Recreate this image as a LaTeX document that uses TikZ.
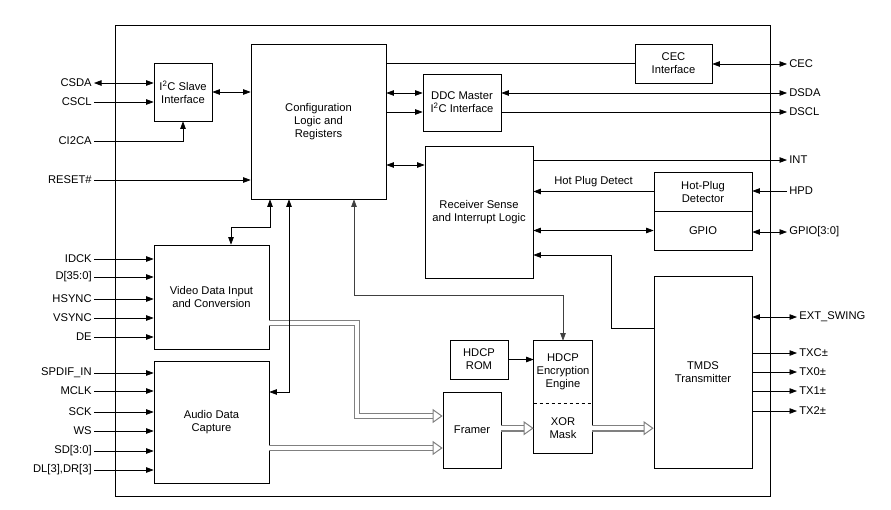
\documentclass[tikz,border=0pt]{standalone}
\usepackage{fontspec}
\setmainfont{Liberation Sans}
\usetikzlibrary{arrows.meta,positioning}

\tikzset{
  blk/.style={draw, align=center, inner sep=1pt},
  inner/.style={align=center, inner sep=1pt, minimum width=58},
  pinl/.style={anchor=east, inner sep=2pt},
  pinr/.style={anchor=west, inner sep=2pt},
  busout/.style={draw=gray, line width=6.6pt, shorten >=6pt},
  busin/.style={draw=white, line width=4pt,
    -{Triangle[open, length=10pt, width=14pt, line width=1pt, color=gray, fill=white]}},
  >={Triangle[length=7.5pt,width=5.5pt]}
}
\def\busline#1{\draw[busout] #1; \draw[busin] #1;}

\begin{document}
\begin{tikzpicture}[x=1pt,y=-1pt,line width=0.7pt,font=\fontsize{11.2}{13}\selectfont]
    \useasboundingbox (0,0) rectangle (891,509);
    %% chip outline
    \draw (115,25) rectangle (770,496);

    %% blocks
    \node[blk, minimum width=58, minimum height=58] (i2c) at (183,92) {I\textsuperscript{2}C Slave\\Interface};
    \node[blk, minimum width=135, minimum height=155] (cfg) at (318.5,121.5) {Configuration\\Logic and\\Registers};
    \node[blk, minimum width=78, minimum height=57] (ddc) at (462,102.5) {DDC Master\\I\textsuperscript{2}C Interface};
    \node[blk, minimum width=108, minimum height=132] (rcv) at (479,212) {Receiver Sense\\and Interrupt Logic};
    \node[blk, minimum width=77, minimum height=39] (cec) at (673.5,63.5) {CEC\\Interface};
    \node[blk, minimum width=98, minimum height=39] (hpd) at (703,191.5) {Hot-Plug\\Detector};
    \node[blk, minimum width=98, minimum height=39] (gpio) at (703,230.5) {GPIO};
    \node[blk, minimum width=98, minimum height=192] (tmds) at (703,372) {TMDS\\Transmitter};
    \node[blk, minimum width=115, minimum height=104] (vid) at (211.5,297) {Video Data Input\\and Conversion};
    \node[blk, minimum width=115, minimum height=122] (aud) at (211.5,422) {Audio Data\\Capture};
    \node[blk, minimum width=58, minimum height=39] (rom) at (479,359.5) {HDCP\\ROM};
    \node[blk, minimum width=58, minimum height=76] (frm) at (472,430) {Framer};
    \node[inner, minimum height=62] (enc) at (563,372) {HDCP\\Encryption\\Engine};
    \node[inner, minimum height=49, anchor=north] (xor) at (enc.south) {XOR\\Mask};
    \draw (enc.north west) rectangle (xor.south east);
    \draw[dashed] (enc.south west) -- (enc.south east);

    %% data buses
    \coordinate (b1) at (357,323);
    \coordinate (b2) at (357,416);
    \coordinate (b3) at (0,448);
    \busline{(vid.east |- b1) -- (b1) -- (b2) -- (frm.west |- b2)}
    \busline{(aud.east |- b3) -- (frm.west |- b3)}
    \busline{(frm.east |- xor.west) -- (xor.west)}
    \busline{(xor.east) -- (xor.east -| tmds.west)}

    %% left pins
    \node[pinl] (csda) at (94,83) {CSDA};
    \node[pinl] (cscl) at (94,102) {CSCL};
    \node[pinl] (ci2ca) at (94,141) {CI2CA};
    \node[pinl] (rst) at (94,180) {RESET\#};
    \draw[<->] (csda.east) -- (csda -| i2c.west);
    \draw[->] (cscl.east) -- (cscl -| i2c.west);
    \draw[->] (ci2ca.east) -| (i2c.south);
    \draw[->] (rst.east) -- (rst -| cfg.west);
    \foreach \lab/\y [count=\i] in {IDCK/259, {D[35:0]}/277, HSYNC/299, VSYNC/318, DE/337}{
      \node[pinl] (vin\i) at (94,\y) {\lab};
      \draw[->] (vin\i.east) -- (vin\i -| vid.west);
    }
    \foreach \lab/\y [count=\i] in {SPDIF\_IN/373, MCLK/391, SCK/412, WS/431, {SD[3:0]}/451, {DL[3],DR[3]}/470}{
      \node[pinl] (ain\i) at (94,\y) {\lab};
      \draw[->] (ain\i.east) -- (ain\i -| aud.west);
    }

    %% right pins
    \node[pinr] (cecp) at (787,64) {CEC};
    \node[pinr] (dsda) at (787,93) {DSDA};
    \node[pinr] (dscl) at (787,112) {DSCL};
    \node[pinr] (intp) at (787,160) {INT};
    \node[pinr] (hpdp) at (787,191) {HPD};
    \node[pinr] (gpiop) at (787,232) {GPIO[3:0]};
    \draw[<->] (cec.east |- cecp) -- (cecp.west);
    \draw[<->] (ddc.east |- dsda) -- (dsda.west);
    \draw[->] (ddc.east |- dscl) -- (dscl.west);
    \draw[->] (rcv.east |- intp) -- (intp.west);
    \draw[->] (hpdp.west) -- (hpd.east |- hpdp);
    \draw[<->] (gpio.east |- gpiop) -- (gpiop.west);
    \node[pinr] (swing) at (797,317) {EXT\_SWING};
    \draw[<->] (tmds.east |- swing) -- (swing.west);
    \foreach \lab/\y [count=\i] in {TXC±/353, TX0±/372, TX1±/391, TX2±/411}{
      \node[pinr] (tx\i) at (797,\y) {\lab};
      \draw[->] (tmds.east |- tx\i) -- (tx\i.west);
    }

    %% internal links
    \coordinate (j1) at (270,227);
    \coordinate (j2) at (231,227);
    \coordinate (j3) at (289,392);
    \coordinate (j4) at (354,295);
    \coordinate (j5) at (400,165);
    \coordinate (j6) at (611,255);
    \coordinate (j7) at (611,328);
    \draw[<->] (i2c.east) -- (i2c.east -| cfg.west);
    \draw (cfg.east |- cec) -- (cec.west);
    \draw[<->] (cfg.east |- dsda) -- (ddc.west |- dsda);
    \draw[->] (cfg.east |- dscl) -- (ddc.west |- dscl);
    \draw[<->] (cfg.east |- j5) -- (rcv.west |- j5);
    \draw[<->] (cfg.south -| j1) -- (j1) -- (j2) -- (vid.north -| j2);
    \draw[<->] (cfg.south -| j3) -- (j3) -- (aud.east |- j3);
    \draw[<->, draw=black!75] (cfg.south -| j4) |- (enc.north |- j4) -- (enc.north);
    \draw[->] (hpd.west) -- (hpd.west -| rcv.east) node[midway, above=1pt] {Hot Plug Detect};
    \draw[<->] (rcv.east |- gpio) -- (gpio.west);
    \draw[->] (tmds.west |- j7) -- (j7) |- (rcv.east |- j6);
    \draw[->] (rom.east) -- (rom.east -| enc.west);
\end{tikzpicture}
\end{document}
